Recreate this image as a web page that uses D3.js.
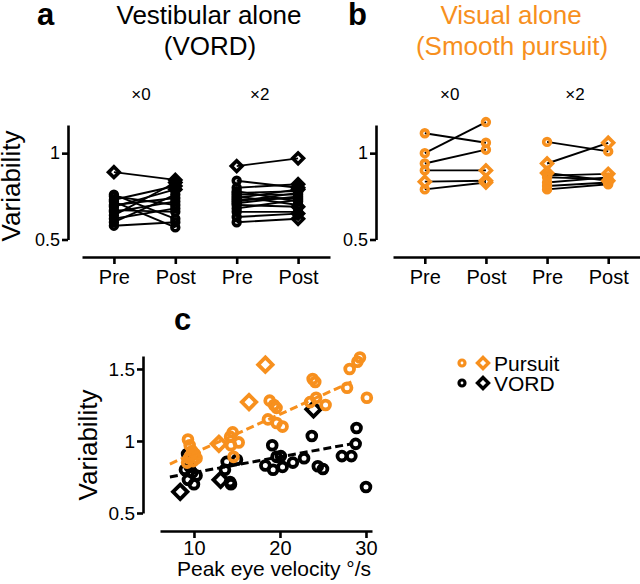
<!DOCTYPE html>
<html><head><meta charset="utf-8">
<script src="https://cdn.jsdelivr.net/npm/d3@7"></script>
<style>
body{margin:0;background:#fff;}
svg{display:block;font-family:"Liberation Sans",Arial,Helvetica,sans-serif;}
</style></head>
<body><svg id="c" width="640" height="584"></svg>
<script>
// ---------- DATA ----------
const conditions = ["x0pre","x0post","x2pre","x2post"];
const condLabels = ["Pre","Post","Pre","Post"];
const gainLabels = ["\u00d70","\u00d72"];
const yTicksAB = [0.5, 1];
const yTicksC = [0.5, 1, 1.5];
const xTicksC = [10, 20, 30];

// Panel a (VORD)
const aPreX0   = [0.89,0.76,0.75,0.73,0.72,0.70,0.69,0.67,0.66,0.64,0.62,0.60,0.58];
const aPostX0  = [0.845,0.62,0.70,0.81,0.57,0.74,0.79,0.66,0.72,0.83,0.68,0.76,0.60];
const aPreShX0 = ["d","c","c","c","c","c","c","c","c","c","c","c","c"];
const aPostShX0= ["d","c","c","d","c","c","d","c","c","d","c","c","c"];
const aPreX2   = [0.925,0.84,0.80,0.78,0.77,0.76,0.75,0.74,0.73,0.72,0.71,0.70,0.68,0.66,0.63,0.60];
const aPostX2  = [0.97,0.80,0.82,0.72,0.78,0.76,0.70,0.79,0.74,0.77,0.75,0.69,0.73,0.66,0.65,0.62];
const aPreShX2 = ["d","c","c","c","c","c","c","c","c","c","c","c","c","c","c","c"];
const aPostShX2= ["d","d","d","c","c","c","c","d","c","c","c","d","c","c","d","d"];

// Panel b (Smooth pursuit)
const bPreX0   = [1.115,1.0,0.94,0.90,0.835,0.79];
const bPostX0  = [1.06,1.18,1.02,0.90,0.84,0.83];
const bPreShX0 = ["c","c","c","c","d","c"];
const bPostShX0= ["c","c","c","d","d","d"];
const bPreX2   = [1.065,0.94,0.885,0.87,0.86,0.83,0.81,0.79];
const bPostX2  = [1.01,1.06,0.84,0.88,0.85,0.86,0.83,0.82];
const bPreShX2 = ["c","d","d","c","c","c","c","c"];
const bPostShX2= ["c","d","d","d","c","c","c","c"];

// Panel c
const pursuitCircVel = [29.3,29.0,28.1,27.8,30.1,23.8,24.1,23.5,24.2,25.3,18.8,19.3,19.6,18.6,19.6,20.3,14.5,14.2,15.2,14.3,14.6,9.3,9.5,9.8,10.1,9.4,9.9,9.2,10.3,9.6];
const pursuitCircVar = [1.58,1.55,1.50,1.37,1.30,1.43,1.41,1.27,1.30,1.25,1.28,1.25,1.23,1.15,1.125,1.10,1.06,1.03,0.99,0.97,0.89,1.01,0.97,0.93,0.91,0.88,0.86,0.85,0.88,0.90];
const pursuitDiamVel = [18.3,16.4,12.9];
const pursuitDiamVar = [1.53,1.27,0.98];
const vordCircVel = [8.95,9.8,9.3,10.0,9.2,10.3,9.5,14.2,14.3,13.8,13.6,15.0,19.1,18.3,19.2,19.6,20.1,20.3,21.5,22.8,23.7,24.4,25.0,27.2,28.3,28.9,28.8,30.0];
const vordCircVar = [0.80,0.78,0.73,0.70,0.91,0.76,0.82,0.715,0.70,0.855,0.80,0.87,0.97,0.83,0.80,0.89,0.895,0.82,0.85,0.88,1.035,0.825,0.805,0.895,0.895,1.09,0.98,0.68];
const vordDiamVel = [8.4,13.1,23.9];
const vordDiamVar = [0.647,0.73,1.22];
const fitVel = [7.2, 28.3];
const pursuitFit = [0.84, 1.41];
const vordFit = [0.75, 0.98];
const legendNames = ["Pursuit","VORD"];

// ---------- STYLE ----------
const ORANGE = "#f7901e";
const svg = d3.select("#c");

function marker(g, shape, x, y, color, r, h, sw){
  if(shape==="c"){
    g.append("circle").attr("cx",x).attr("cy",y).attr("r",r)
      .attr("fill","none").attr("stroke",color).attr("stroke-width",sw);
  } else {
    g.append("path").attr("d",`M${x},${y-h}L${x+h},${y}L${x},${y+h}L${x-h},${y}Z`)
      .attr("fill","none").attr("stroke",color).attr("stroke-width",sw).attr("stroke-linejoin","miter");
  }
}
function styleAxis(g, fs){
  g.select(".domain").attr("stroke","#000").attr("stroke-width",2.6);
  g.selectAll(".tick line").attr("stroke","#000").attr("stroke-width",2.6);
  g.selectAll(".tick text").attr("fill","#000").attr("font-size",fs)
    .attr("font-family","'Liberation Sans',Arial,sans-serif");
}
const fmt = d => d===1 ? "1" : String(d);

// ---------- PANELS A & B ----------
function pairPanel(opts){
  const y = d3.scaleLinear().domain([0.5,1.163]).range([239.5,125]);
  const x = d3.scalePoint().domain(conditions).range([opts.x0, opts.x1]).padding(0.52);
  const gy = svg.append("g").attr("transform",`translate(${opts.yAxisX},0)`)
    .call(d3.axisLeft(y).tickValues(yTicksAB).tickSize(6).tickSizeOuter(0).tickPadding(2).tickFormat(fmt));
  styleAxis(gy, 18);
  const gx = svg.append("g").attr("transform",`translate(0,257)`)
    .call(d3.axisBottom(x).tickSize(7).tickSizeOuter(0).tickPadding(6).tickFormat((d,i)=>condLabels[i]));
  styleAxis(gx, 20);
  const groups = [
    {pre:opts.preX0, post:opts.postX0, ps:opts.preShX0, qs:opts.postShX0, k0:"x0pre", k1:"x0post"},
    {pre:opts.preX2, post:opts.postX2, ps:opts.preShX2, qs:opts.postShX2, k0:"x2pre", k1:"x2post"}
  ];
  const gl = svg.append("g"), gm = svg.append("g");
  groups.forEach(gr=>{
    gr.pre.forEach((v,i)=>{
      gl.append("line").attr("x1",x(gr.k0)).attr("y1",y(v)).attr("x2",x(gr.k1)).attr("y2",y(gr.post[i]))
        .attr("stroke","#000").attr("stroke-width",1.9);
    });
    gr.pre.forEach((v,i)=>{
      marker(gm, gr.ps[i], x(gr.k0), y(v), opts.color, 3.4, 5.4, 3.6);
      marker(gm, gr.qs[i], x(gr.k1), y(gr.post[i]), opts.color, 3.4, 5.4, 3.6);
    });
  });
  gainLabels.forEach((t,i)=>{
    svg.append("text").attr("x",x(conditions[2*i]) + opts.gainOffset[i]).attr("y",100).attr("text-anchor","middle")
      .attr("font-size",17).text(t);
  });
}

pairPanel({x0:82,x1:330,yAxisX:68,color:"#000",gainOffset:[27,23],
  preX0:aPreX0,postX0:aPostX0,preShX0:aPreShX0,postShX0:aPostShX0,
  preX2:aPreX2,postX2:aPostX2,preShX2:aPreShX2,postShX2:aPostShX2});
pairPanel({x0:393,x1:640,yAxisX:376,color:ORANGE,gainOffset:[25,28],
  preX0:bPreX0,postX0:bPostX0,preShX0:bPreShX0,postShX0:bPostShX0,
  preX2:bPreX2,postX2:bPostX2,preShX2:bPreShX2,postShX2:bPostShX2});

// Titles
svg.append("text").attr("x",37).attr("y",25).attr("font-size",31).attr("font-weight","bold").text("a");
svg.append("text").attr("x",348).attr("y",25).attr("font-size",31).attr("font-weight","bold").text("b");
svg.append("text").attr("x",209).attr("y",24).attr("text-anchor","middle").attr("font-size",26).text("Vestibular alone");
svg.append("text").attr("x",210).attr("y",55).attr("text-anchor","middle").attr("font-size",26).text("(VORD)");
svg.append("text").attr("x",511).attr("y",24).attr("text-anchor","middle").attr("font-size",26).attr("fill",ORANGE).text("Visual alone");
svg.append("text").attr("x",512).attr("y",55).attr("text-anchor","middle").attr("font-size",26).attr("fill",ORANGE).text("(Smooth pursuit)");
svg.append("text").attr("transform","translate(20,186) rotate(-90)").attr("text-anchor","middle").attr("font-size",26).text("Variability");

// ---------- PANEL C ----------
const xc = d3.scaleLinear().domain([6.05,30.7]).range([160,372]);
const yc = d3.scaleLinear().domain([0.5,1.59]).range([513,356]);
const gcy = svg.append("g").attr("transform","translate(143,0)")
  .call(d3.axisLeft(yc).tickValues(yTicksC).tickSize(6).tickSizeOuter(0).tickPadding(2).tickFormat(fmt));
styleAxis(gcy, 19);
const gcx = svg.append("g").attr("transform","translate(0,531)")
  .call(d3.axisBottom(xc).tickValues(xTicksC).tickSize(7).tickSizeOuter(0).tickPadding(3));
styleAxis(gcx, 20);

const gpts = svg.append("g");
vordCircVel.forEach((v,i)=>marker(gpts,"c",xc(v),yc(vordCircVar[i]),"#000",4.4,7.2,3.8));
vordDiamVel.forEach((v,i)=>marker(gpts,"d",xc(v),yc(vordDiamVar[i]),"#000",4.4,7.2,3.8));
svg.append("line").attr("x1",xc(fitVel[0])).attr("y1",yc(vordFit[0])).attr("x2",xc(fitVel[1])).attr("y2",yc(vordFit[1]))
  .attr("stroke","#000").attr("stroke-width",3).attr("stroke-dasharray","8,4");
const gpts2 = svg.append("g");
pursuitCircVel.forEach((v,i)=>marker(gpts2,"c",xc(v),yc(pursuitCircVar[i]),ORANGE,4.4,7.2,3.8));
pursuitDiamVel.forEach((v,i)=>marker(gpts2,"d",xc(v),yc(pursuitDiamVar[i]),ORANGE,4.4,7.2,3.8));
svg.append("line").attr("x1",xc(fitVel[0])).attr("y1",yc(pursuitFit[0])).attr("x2",xc(fitVel[1])).attr("y2",yc(pursuitFit[1]))
  .attr("stroke",ORANGE).attr("stroke-width",3).attr("stroke-dasharray","8,4");

svg.append("text").attr("x",174).attr("y",330).attr("font-size",31).attr("font-weight","bold").text("c");
svg.append("text").attr("transform","translate(97,445) rotate(-90)").attr("text-anchor","middle").attr("font-size",26).text("Variability");
svg.append("text").attr("x",274).attr("y",576).attr("text-anchor","middle").attr("font-size",21).text("Peak eye velocity \u00b0/s");

// Legend
const lg = svg.append("g");
[ORANGE,"#000"].forEach((col,i)=>{
  const yy = 363 + i*20;
  marker(lg,"c",462,yy,col,3.0,5,3.2);
  marker(lg,"d",483,yy,col,3.0,5.5,3.4);
  lg.append("text").attr("x",494).attr("y",yy+7.5).attr("font-size",21).text(legendNames[i]);
});
</script></body></html>
